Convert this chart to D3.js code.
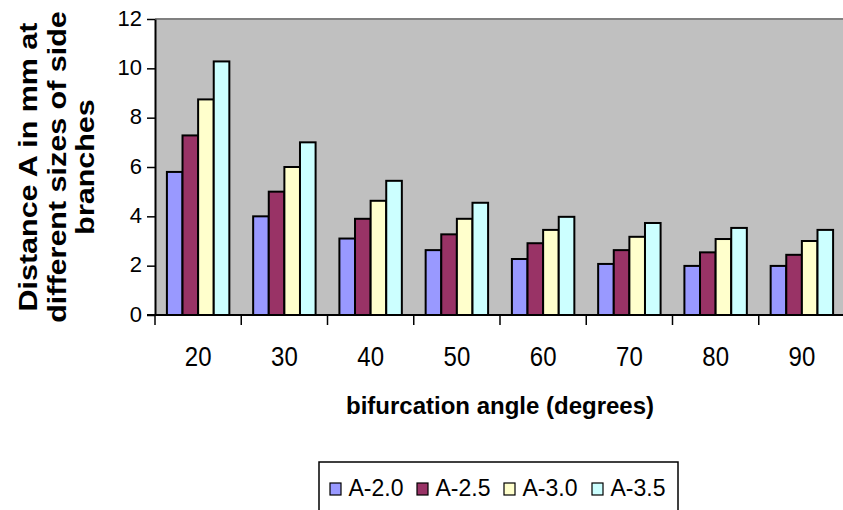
<!DOCTYPE html>
<html>
<head>
<meta charset="utf-8">
<script src="https://cdn.jsdelivr.net/npm/d3@7"></script>
<style>
  html, body { margin: 0; padding: 0; background: #ffffff; overflow: hidden; }
  svg { display: block; font-family: "Liberation Sans", Arial, sans-serif; }
</style>
</head>
<body>
<svg id="chart" width="843" height="510"></svg>
<script>
// Bifurcation angle categories (degrees)
const categories = ["20", "30", "40", "50", "60", "70", "80", "90"];
// Side branch size series
const seriesNames = ["A-2.0", "A-2.5", "A-3.0", "A-3.5"];
// Distance A in mm, one array per series
const a20 = [5.8, 4.0, 3.1, 2.63, 2.27, 2.07, 1.99, 1.99];
const a25 = [7.28, 5.0, 3.9, 3.27, 2.91, 2.63, 2.54, 2.44];
const a30 = [8.74, 6.0, 4.63, 3.9, 3.45, 3.17, 3.08, 3.0];
const a35 = [10.28, 7.0, 5.44, 4.55, 3.98, 3.73, 3.53, 3.45];
const seriesValues = [a20, a25, a30, a35];
const colors = ["#9999FF", "#993366", "#FFFFCC", "#CCFFFF"];
const yTicks = [0, 2, 4, 6, 8, 10, 12];

const svg = d3.select("#chart");
const plot = { left: 155, right: 845, top: 19, bottom: 315 };

const x0 = d3.scaleBand().domain(categories).range([plot.left, plot.right]).padding(0);
const bw = x0.bandwidth();
const x1 = d3.scaleBand().domain(seriesNames).range([bw * 0.138, bw * 0.862]).padding(0);
const y = d3.scaleLinear().domain([0, 12]).range([plot.bottom, plot.top]);

// Plot background
svg.append("rect")
  .attr("x", plot.left).attr("y", plot.top)
  .attr("width", plot.right - plot.left).attr("height", plot.bottom - plot.top)
  .attr("fill", "#C0C0C0");
svg.append("line")
  .attr("x1", plot.left).attr("x2", plot.right)
  .attr("y1", plot.top).attr("y2", plot.top)
  .attr("stroke", "#808080").attr("stroke-width", 2);

// Bars
const rows = categories.map((c, i) => ({ cat: c, vals: seriesNames.map((s, j) => ({ s, j, v: seriesValues[j][i] })) }));
const groups = svg.append("g").selectAll("g").data(rows).join("g")
  .attr("transform", d => `translate(${x0(d.cat)},0)`);
groups.selectAll("rect").data(d => d.vals).join("rect")
  .attr("x", d => x1(d.s))
  .attr("width", x1.bandwidth())
  .attr("y", d => y(d.v))
  .attr("height", d => y(0) - y(d.v))
  .attr("fill", d => colors[d.j])
  .attr("stroke", "#000").attr("stroke-width", 2);

// Y axis
const yAxis = svg.append("g")
  .attr("transform", `translate(${plot.left},0)`)
  .call(d3.axisLeft(y).tickValues(yTicks).tickFormat(d3.format("d")).tickSize(8).tickSizeOuter(0).tickPadding(5));
yAxis.select(".domain").attr("stroke", "#000").attr("stroke-width", 2);
yAxis.selectAll(".tick line").attr("stroke", "#000").attr("stroke-width", 1.5);
yAxis.selectAll(".tick text")
  .attr("font-size", 22).attr("fill", "#000")
  .attr("font-family", "'Liberation Sans', Arial, sans-serif")
  .attr("dy", "0.28em");

// X axis line and boundary ticks
svg.append("line")
  .attr("x1", plot.left - 8).attr("x2", plot.right)
  .attr("y1", plot.bottom).attr("y2", plot.bottom)
  .attr("stroke", "#000").attr("stroke-width", 2);
const bounds = categories.map(c => x0(c)).concat([x0.range()[1]]);
svg.append("g").selectAll("line").data(bounds).join("line")
  .attr("x1", d => d).attr("x2", d => d)
  .attr("y1", plot.bottom).attr("y2", plot.bottom + 10)
  .attr("stroke", "#000").attr("stroke-width", 1.5);

// Category labels
svg.append("g").selectAll("text").data(categories).join("text")
  .attr("transform", d => `translate(${x0(d) + bw / 2},365.5) scale(1,1.17)`)
  .attr("text-anchor", "middle")
  .attr("font-size", 24)
  .attr("fill", "#000")
  .text(d => d);

// X axis title
svg.append("text")
  .attr("x", 500).attr("y", 414)
  .attr("text-anchor", "middle")
  .attr("font-size", 24).attr("font-weight", "bold")
  .text("bifurcation angle (degrees)");

// Y axis title (three lines)
const yTitle = ["Distance A in mm at", "different sizes of side", "branches"];
const yTitleX = [37, 65.5, 94];
svg.append("g").selectAll("text").data(yTitle).join("text")
  .attr("transform", (d, i) => `translate(${yTitleX[i]},167) rotate(-90) scale(1.15,1)`)
  .attr("text-anchor", "middle")
  .attr("font-size", 26.5).attr("font-weight", "bold")
  .text(d => d);

// Legend
const legend = svg.append("g");
legend.append("rect")
  .attr("x", 319).attr("y", 462).attr("width", 359).attr("height", 60)
  .attr("fill", "#fff").attr("stroke", "#000").attr("stroke-width", 1.5);
const legendX = [330, 417, 504, 592];
const items = legend.selectAll("g.item").data(seriesNames).join("g")
  .attr("class", "item")
  .attr("transform", (d, i) => `translate(${legendX[i]},0)`);
items.append("rect")
  .attr("x", 0).attr("y", 483).attr("width", 11).attr("height", 12)
  .attr("fill", (d, i) => colors[i]).attr("stroke", "#000").attr("stroke-width", 1.2);
items.append("text")
  .attr("x", 18.5).attr("y", 496)
  .attr("font-size", 23).attr("fill", "#000")
  .text(d => d);
</script>
</body>
</html>
